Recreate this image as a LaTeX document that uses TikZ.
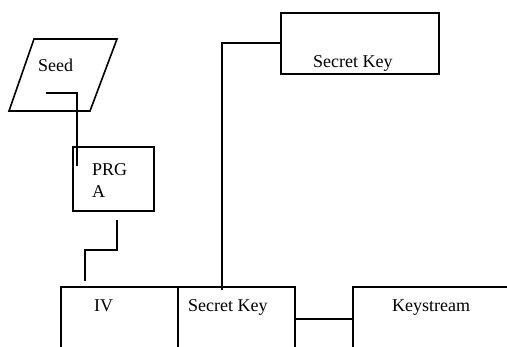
\documentclass[tikz,border=0pt]{standalone}
\usepackage{fontspec}
\setmainfont{Liberation Serif}
\usepackage{tikz}
\usetikzlibrary{positioning,calc}
\definecolor{inkline}{RGB}{0,0,0}
\newcommand{\seedShape}{(34,39) -- (117,39) -- (90,111) -- (9,111) -- cycle}
\tikzset{
  blk/.style={draw=inkline,line width=1.6pt,minimum width=#1,inner sep=0pt,anchor=north west},
  wire/.style={draw=inkline,line width=1.6pt},
  lbl/.style={inner sep=0pt,anchor=base west,font=\fontsize{18}{22}\selectfont}
}

\begin{document}
\begin{tikzpicture}[x=1pt,y=-1pt]
        \useasboundingbox (0,0) rectangle (507,347);
        \clip (0,0) rectangle (507,347);
        \draw[wire] \seedShape; \node[lbl] (seedtxt) at (38,72) {Seed};
        \node[blk=81pt,minimum height=64pt] (prga) at (72,146) {};
        \node[lbl,align=left,anchor=north west] (prgatxt) at (92,163) {PRG\\A};
        \node[blk=158pt,minimum height=61pt] (topkey) at (280,12) {};
        \node[lbl] (topkeytxt) at (313,68) {Secret Key};
        \node[blk=117pt,minimum height=64pt] (iv) at (60,286) {};
        \node[blk=117pt,minimum height=64pt] (skey) at (177,286) {};
        \node[blk=170pt,minimum height=64pt] (kstream) at (352,286) {};
        \node[lbl] (ivtxt) at (94,312) {IV};
        \node[lbl] (skeytxt) at (188,312) {Secret Key};
        \node[lbl] (kstreamtxt) at (392,312) {Keystream};
        % loose ends of the wires
        \coordinate (seedout) at (46,93); \coordinate (prgain) at (77,166);
        \coordinate (prgaout) at (117,220); \coordinate (ivin) at (85,281);
        \coordinate (skeyin) at (222,290);
        \draw[wire] (seedout) -| (prgain);
        \draw[wire] (prgaout) -- ++(0,30) -| (ivin);
        \draw[wire] (topkey.west) -| (skeyin);
        \draw[wire] (skey) -- (kstream);
      \end{tikzpicture}
\end{document}
